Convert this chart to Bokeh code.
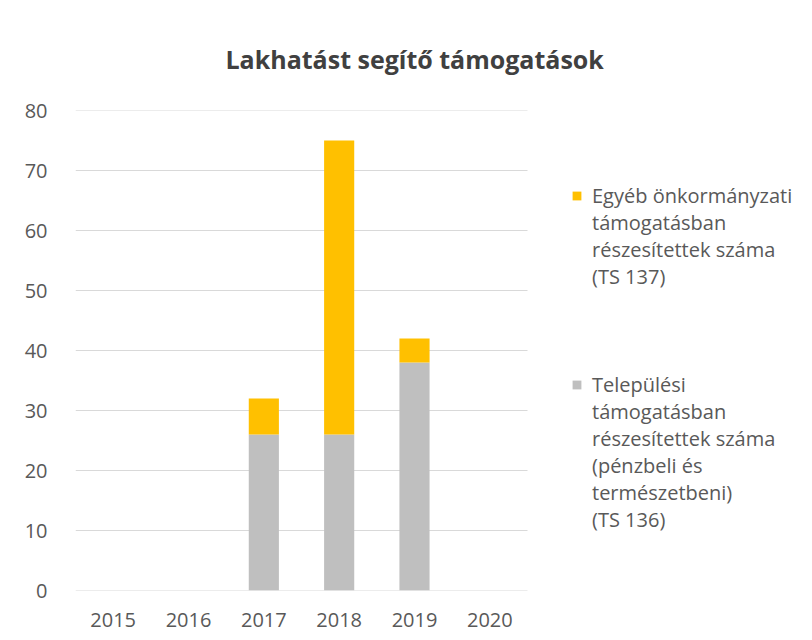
from bokeh.plotting import figure
from bokeh.models import Range1d, FixedTicker, Legend, LegendItem
from bokeh.embed import file_html
from bokeh.resources import INLINE

years = ["2015", "2016", "2017", "2018", "2019", "2020"]
telepulesi = [0, 0, 26, 26, 38, 0]      # TS 136 (gray, bottom)
egyeb = [0, 0, 6, 49, 4, 0]             # TS 137 (orange, top)
y_ticks = [0, 10, 20, 30, 40, 50, 60, 70, 80]

title_text = "Lakhatást segítő támogatások"
lines_egyeb = ["Egyéb önkormányzati", "támogatásban", "részesítettek száma", "(TS 137)"]
lines_telep = ["Települési", "támogatásban", "részesítettek száma", "(pénzbeli és",
               "természetbeni)", "(TS 136)"]

ORANGE = "#FFC000"
GRAY = "#BFBFBF"
TEXT = "#595959"
FONT = "Open Sans"

W, H = 812, 640
LEFT, RIGHT_BARS, TOP, BOTTOM = 75, 527, 110, 590
xs = list(range(len(years)))
unit = (RIGHT_BARS - LEFT) / len(years)
x_end = -0.5 + (W - LEFT) / unit

p = figure(x_range=Range1d(-0.5, x_end), y_range=Range1d(0, 80),
           width=W, height=H, output_backend="svg", toolbar_location=None,
           min_border_left=LEFT, min_border_right=0, min_border_top=TOP,
           min_border_bottom=H - BOTTOM)

p.outline_line_color = None
p.background_fill_color = "white"
p.border_fill_color = "white"
p.xgrid.grid_line_color = None
p.ygrid.grid_line_color = None

# horizontal gridlines only across the category area
p.segment(x0=[-0.5] * len(y_ticks), x1=[len(years) - 0.5] * len(y_ticks),
          y0=y_ticks, y1=y_ticks, line_color="#D9D9D9", line_width=1)

data = dict(x=xs, telep=telepulesi, egyeb=egyeb)
rs = p.vbar_stack(["telep", "egyeb"], x="x", width=0.4, color=[GRAY, ORANGE],
                  line_color=None, source=data)
blank = p.vbar(x=[], top=[], width=0.4, fill_alpha=0, line_alpha=0)

p.yaxis.ticker = FixedTicker(ticks=y_ticks)
p.xaxis.ticker = FixedTicker(ticks=xs)
p.xaxis.major_label_overrides = {i: y for i, y in zip(xs, years)}
for ax in (p.xaxis, p.yaxis):
    ax.axis_line_color = None
    ax.major_tick_line_color = None
    ax.minor_tick_line_color = None
    ax.major_label_text_font = FONT
    ax.major_label_text_font_size = "20px"
    ax.major_label_text_color = TEXT
p.yaxis.major_label_standoff = 22
p.xaxis.major_label_standoff = 16

p.title.text = title_text
p.title.align = "left"
p.title.offset = 150
p.title.text_font = FONT
p.title.text_font_style = "bold"
p.title.text_font_size = "25px"
p.title.text_color = "#404040"
p.title.standoff = 70

items = []
for i, line in enumerate(lines_egyeb):
    items.append(LegendItem(label=line, renderers=[rs[1] if i == 0 else blank]))
for _ in range(3):
    items.append(LegendItem(label=" ", renderers=[blank]))
for i, line in enumerate(lines_telep):
    items.append(LegendItem(label=line, renderers=[rs[0] if i == 0 else blank]))

LH = 27
legend = Legend(items=items, location=(571 - LEFT, BOTTOM - (195 - LH / 2) - LH * len(items)),
                orientation="vertical", margin=0, padding=0, spacing=0,
                glyph_width=11, glyph_height=11, label_standoff=10, label_height=LH,
                label_text_font=FONT, label_text_font_size="20px",
                label_text_color=TEXT, border_line_color=None,
                background_fill_alpha=0, click_policy="none")
p.add_layout(legend)

open("out.html", "w").write(file_html(p, INLINE))
